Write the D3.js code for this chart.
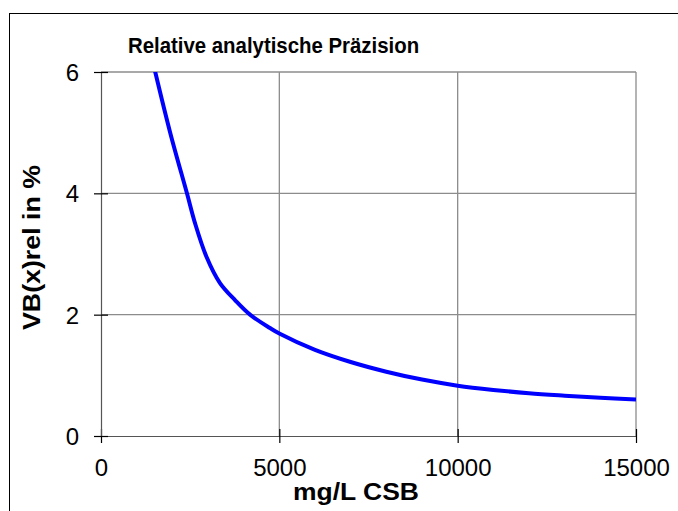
<!DOCTYPE html>
<html><head><meta charset="utf-8">
<script src="https://cdn.jsdelivr.net/npm/d3@7"></script>
<style>body{margin:0;background:#fff}svg{display:block}</style>
</head><body>
<svg id="c" width="678" height="511"></svg>
<script>
const title = "Relative analytische Präzision";
const xTitle = "mg/L CSB";
const yTitle = "VB(x)rel in %";
const xTicks = [0, 5000, 10000, 15000];
const yTicks = [0, 2, 4, 6];
const conc = [1480, 1940, 2410, 2640, 2960, 3336, 3757, 4178, 4738, 5000, 6000, 7000, 8000, 9000, 10000, 11000, 12000, 13000, 14000, 15000];
const vbrel = [6.1, 5.0, 4.0, 3.5, 2.95, 2.52, 2.24, 2.0, 1.78, 1.69, 1.42, 1.22, 1.06, 0.93, 0.83, 0.76, 0.705, 0.665, 0.63, 0.60];

const svg = d3.select("#c");
const m = {l: 101, r: 636, t: 72, b: 436};
const x = d3.scaleLinear().domain([0, 15000]).range([m.l, m.r]);
const y = d3.scaleLinear().domain([0, 6]).range([m.b, m.t]);
const font = "'Liberation Sans', Arial, sans-serif";

// outer chart border
svg.append("rect").attr("x", 9.5).attr("y", 13.5).attr("width", 700).attr("height", 600)
  .attr("fill", "#fff").attr("stroke", "#000").attr("stroke-width", 1);

// gridlines
const g = svg.append("g");
g.selectAll(".gx").data(xTicks.slice(1)).join("line")
  .attr("x1", d => x(d)).attr("x2", d => x(d)).attr("y1", m.t).attr("y2", m.b)
  .attr("stroke", "#8c8c8c").attr("stroke-width", 1.3);
g.selectAll(".gy").data(yTicks.slice(1)).join("line")
  .attr("x1", m.l).attr("x2", m.r).attr("y1", d => y(d)).attr("y2", d => y(d))
  .attr("stroke", "#8c8c8c").attr("stroke-width", 1.3);

// clip
svg.append("clipPath").attr("id", "pc").append("rect")
  .attr("x", m.l).attr("y", m.t).attr("width", m.r - m.l).attr("height", m.b - m.t);

// axes
const xAxis = d3.axisBottom(x).tickValues(xTicks).tickSizeInner(7).tickSizeOuter(0).tickFormat(d3.format("d"));
const yAxis = d3.axisLeft(y).tickValues(yTicks).tickSizeInner(7).tickSizeOuter(0).tickFormat(d3.format("d"));

const ax = svg.append("g").attr("transform", `translate(0,${m.b})`).call(xAxis);
const ay = svg.append("g").attr("transform", `translate(${m.l},0)`).call(yAxis);
[ax, ay].forEach(a => {
  a.select(".domain").attr("stroke", "#555").attr("stroke-width", 1.2);
  a.selectAll(".tick line").attr("stroke", "#000").attr("stroke-width", 1.2);
  a.selectAll("text").attr("font-family", font).attr("font-size", 24).attr("fill", "#000");
});
// cross ticks
ax.selectAll(".tick line").attr("y1", -7).attr("y2", 7);
ay.selectAll(".tick line").attr("x1", -7).attr("x2", 7);
ax.selectAll(".tick text").attr("y", 23).attr("dy", "0.71em");
ay.selectAll(".tick text").attr("x", -22).attr("dy", "0.35em");

// curve
const line = d3.line().x((d, i) => x(conc[i])).y((d, i) => y(vbrel[i])).curve(d3.curveCatmullRom.alpha(0.5));
svg.append("path").datum(vbrel).attr("clip-path", "url(#pc)")
  .attr("d", line).attr("fill", "none").attr("stroke", "#0000ff").attr("stroke-width", 4)
  .attr("stroke-linejoin", "round");

// titles
svg.append("text").attr("transform", "translate(273.5,53) scale(0.927,1)").attr("text-anchor", "middle")
  .attr("font-family", font).attr("font-weight", "bold").attr("font-size", 22).text(title);
svg.append("text").attr("x", 293).attr("y", 500)
  .attr("font-family", font).attr("font-weight", "bold").attr("font-size", 23)
  .attr("textLength", 126).attr("lengthAdjust", "spacingAndGlyphs").text(xTitle);
svg.append("text").attr("transform", "translate(40,330) rotate(-90)")
  .attr("font-family", font).attr("font-weight", "bold").attr("font-size", 24)
  .attr("textLength", 165).attr("lengthAdjust", "spacingAndGlyphs").text(yTitle);
</script>
</body></html>
